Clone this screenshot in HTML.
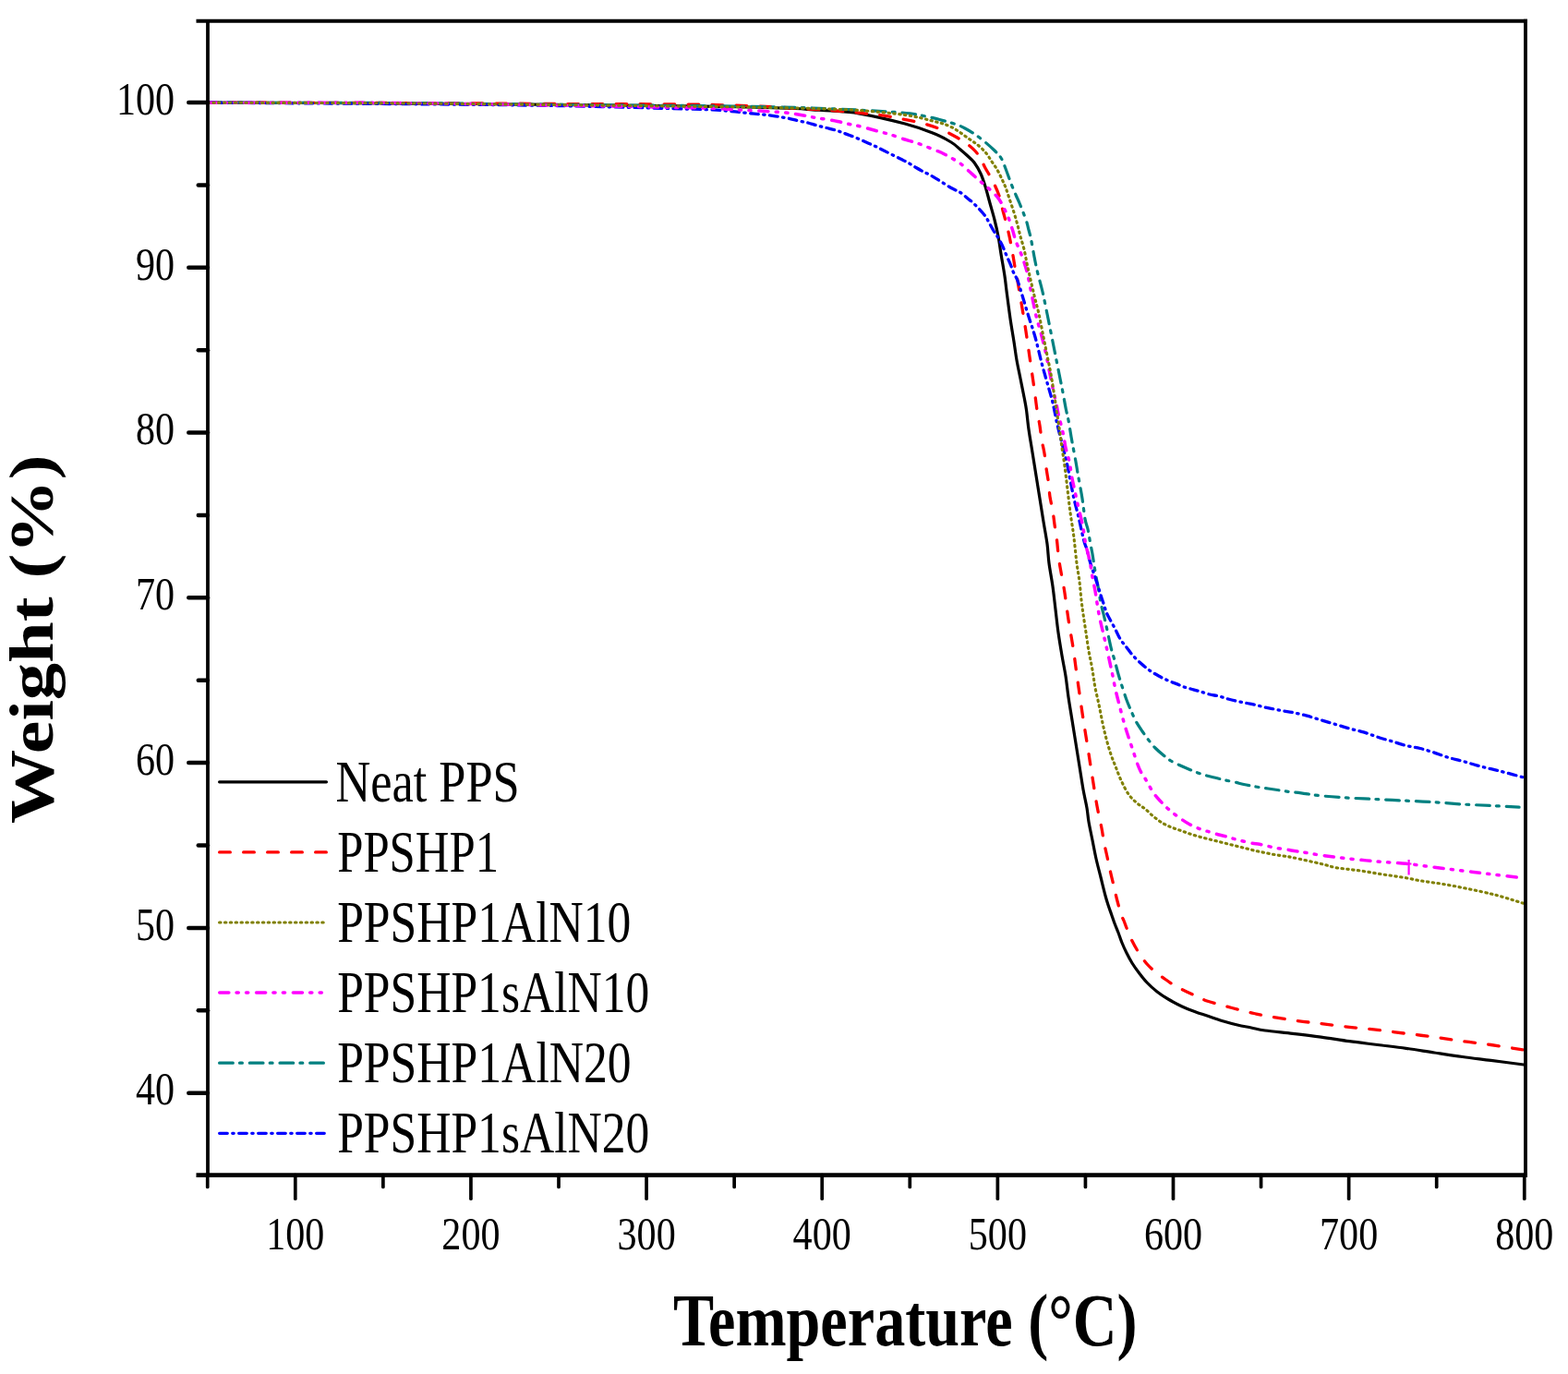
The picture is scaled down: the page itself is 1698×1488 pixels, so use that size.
<!DOCTYPE html>
<html><head><meta charset="utf-8"><title>TGA</title>
<style>html,body{margin:0;padding:0;background:#fff;} svg{display:block;}</style></head>
<body><svg width="1698" height="1488" viewBox="0 0 1698 1488">
<rect width="1698" height="1488" fill="#fff"/>
<g fill="none" stroke-linecap="round" stroke-linejoin="round">
<path d="M225,111.2C258.33,111.3 362.5,111.45 425,111.8C487.5,112.15 544.17,112.77 600,113.3C655.83,113.83 725,114.55 760,115C795,115.45 793.33,115.58 810,116C826.67,116.42 848.33,117.03 860,117.5C871.67,117.97 873.33,118.38 880,118.8C886.67,119.22 891.67,119.33 900,120C908.33,120.67 916.67,120.47 930,122.8C943.33,125.13 966.67,130.47 980,134C993.33,137.53 1001.67,140.67 1010,144C1018.33,147.33 1025,151 1030,154C1035,157 1037,159.5 1040,162C1043,164.5 1045.5,166.67 1048,169C1050.5,171.33 1052.67,172.83 1055,176C1057.33,179.17 1060,183.67 1062,188C1064,192.33 1065.33,196.67 1067,202C1068.67,207.33 1070.33,214 1072,220C1073.67,226 1075.5,232 1077,238C1078.5,244 1079.83,249.83 1081,256C1082.17,262.17 1082.83,267.83 1084,275C1085.17,282.17 1087,292.33 1088,299C1089,305.67 1089,307.33 1090,315C1091,322.67 1092.67,335.83 1094,345C1095.33,354.17 1096.83,362.5 1098,370C1099.17,377.5 1099.83,383.33 1101,390C1102.17,396.67 1103.67,403.33 1105,410C1106.33,416.67 1107.92,424.33 1109,430C1110.08,435.67 1110.67,438.17 1111.5,444C1112.33,449.83 1112.92,457.33 1114,465C1115.08,472.67 1116.67,481.67 1118,490C1119.33,498.33 1120.67,506.67 1122,515C1123.33,523.33 1124.67,531.67 1126,540C1127.33,548.33 1128.67,556.83 1130,565C1131.33,573.17 1133,581.5 1134,589C1135,596.5 1135,602.33 1136,610C1137,617.67 1138.83,626.67 1140,635C1141.17,643.33 1142,651.67 1143,660C1144,668.33 1144.83,676.67 1146,685C1147.17,693.33 1148.67,702.17 1150,710C1151.33,717.83 1152.83,724.5 1154,732C1155.17,739.5 1155.83,747 1157,755C1158.17,763 1159.67,771.67 1161,780C1162.33,788.33 1163.67,796.67 1165,805C1166.33,813.33 1167.67,821.67 1169,830C1170.33,838.33 1171.67,847.5 1173,855C1174.33,862.5 1176,869.17 1177,875C1178,880.83 1178,884.17 1179,890C1180,895.83 1181.67,903.33 1183,910C1184.33,916.67 1185.5,923.33 1187,930C1188.5,936.67 1190.33,943.33 1192,950C1193.67,956.67 1195.67,965 1197,970C1198.33,975 1198.92,976.67 1200,980C1201.08,983.33 1202.33,986.67 1203.5,990C1204.67,993.33 1205.75,996.67 1207,1000C1208.25,1003.33 1209.67,1006.5 1211,1010C1212.33,1013.5 1213.5,1017.33 1215,1021C1216.5,1024.67 1218.17,1028.33 1220,1032C1221.83,1035.67 1223.83,1039.5 1226,1043C1228.17,1046.5 1230.33,1049.5 1233,1053C1235.67,1056.5 1238.67,1060.5 1242,1064C1245.33,1067.5 1249.17,1071 1253,1074C1256.83,1077 1260.5,1079.33 1265,1082C1269.5,1084.67 1275,1087.67 1280,1090C1285,1092.33 1290,1094.17 1295,1096C1300,1097.83 1305,1099.33 1310,1101C1315,1102.67 1320,1104.5 1325,1106C1330,1107.5 1335,1108.83 1340,1110C1345,1111.17 1350,1112 1355,1113C1360,1114 1362.5,1114.95 1370,1116C1377.5,1117.05 1389.9,1118.12 1400,1119.3C1410.1,1120.48 1420.38,1121.7 1430.6,1123.1C1440.82,1124.5 1451.08,1126.3 1461.3,1127.7C1471.52,1129.1 1481.68,1130.23 1491.9,1131.5C1502.12,1132.77 1512.38,1133.88 1522.6,1135.3C1532.82,1136.72 1543,1138.47 1553.2,1140C1563.4,1141.53 1573.58,1143.1 1583.8,1144.5C1594.02,1145.9 1603.47,1146.98 1614.5,1148.4C1625.53,1149.82 1644.08,1152.23 1650,1153" stroke="#000000" stroke-width="3.2"/>
<path d="M225,111.2C258.33,111.25 362.5,111.28 425,111.5C487.5,111.72 542.5,112.17 600,112.5C657.5,112.83 723.33,112.53 770,113.5C816.67,114.47 850.5,116.55 880,118.3C909.5,120.05 931.67,122.38 947,124C962.33,125.62 963.67,126.5 972,128C980.33,129.5 989,130.92 997,133C1005,135.08 1012.83,137.5 1020,140.5C1027.17,143.5 1035.5,148.5 1040,151C1044.5,153.5 1044.33,153.42 1047,155.5C1049.67,157.58 1053.5,160.75 1056,163.5C1058.5,166.25 1060.17,168.92 1062,172C1063.83,175.08 1064.83,178 1067,182C1069.17,186 1072.5,191 1075,196C1077.5,201 1080.17,206.67 1082,212C1083.83,217.33 1084.67,222.83 1086,228C1087.33,233.17 1088.75,238 1090,243C1091.25,248 1092.42,252.83 1093.5,258C1094.58,263.17 1095.58,268.83 1096.5,274C1097.42,279.17 1098.25,284.83 1099,289C1099.75,293.17 1099.83,292.5 1101,299C1102.17,305.5 1104.33,318 1106,328C1107.67,338 1109.42,348.67 1111,359C1112.58,369.33 1114,379.67 1115.5,390C1117,400.33 1118.75,412 1120,421C1121.25,430 1122,437.33 1123,444C1124,450.67 1125.17,455.67 1126,461C1126.83,466.33 1127.17,471 1128,476C1128.83,481 1130.17,485.83 1131,491C1131.83,496.17 1132.25,501.67 1133,507C1133.75,512.33 1134.83,517.83 1135.5,523C1136.17,528.17 1136.25,533 1137,538C1137.75,543 1139.17,548 1140,553C1140.83,558 1141.25,562.67 1142,568C1142.75,573.33 1143.67,578.33 1144.5,585C1145.33,591.67 1145.67,599 1147,608C1148.33,617 1150.83,628.5 1152.5,639C1154.17,649.5 1155.42,660.67 1157,671C1158.58,681.33 1160.5,691.17 1162,701C1163.5,710.83 1164.33,718.17 1166,730C1167.67,741.83 1170,758.67 1172,772C1174,785.33 1176.17,798.33 1178,810C1179.83,821.67 1181.33,831.5 1183,842C1184.67,852.5 1186.33,863.83 1188,873C1189.67,882.17 1191.75,890.5 1193,897C1194.25,903.5 1194.5,906.83 1195.5,912C1196.5,917.17 1197.92,923 1199,928C1200.08,933 1200.83,936.83 1202,942C1203.17,947.17 1204.75,953.67 1206,959C1207.25,964.33 1208.17,968.83 1209.5,974C1210.83,979.17 1212.75,986.17 1214,990C1215.25,993.83 1216,994.5 1217,997C1218,999.5 1218.5,1001.33 1220,1005C1221.5,1008.67 1223.67,1014.33 1226,1019C1228.33,1023.67 1231.17,1028.67 1234,1033C1236.83,1037.33 1239.83,1041.5 1243,1045C1246.17,1048.5 1249.5,1051.17 1253,1054C1256.5,1056.83 1260.67,1059.67 1264,1062C1267.33,1064.33 1269.5,1066 1273,1068C1276.5,1070 1281.17,1072.17 1285,1074C1288.83,1075.83 1292.33,1077.33 1296,1079C1299.67,1080.67 1302.5,1082.42 1307,1084C1311.5,1085.58 1318.5,1087.25 1323,1088.5C1327.5,1089.75 1330.17,1090.5 1334,1091.5C1337.83,1092.5 1342,1093.5 1346,1094.5C1350,1095.5 1354,1096.58 1358,1097.5C1362,1098.42 1362.23,1098.67 1370,1100C1377.77,1101.33 1394.5,1104.08 1404.6,1105.5C1414.7,1106.92 1421.15,1107.35 1430.6,1108.5C1440.05,1109.65 1451.08,1111.25 1461.3,1112.4C1471.52,1113.55 1481.68,1114.25 1491.9,1115.4C1502.12,1116.55 1512.38,1118.02 1522.6,1119.3C1532.82,1120.58 1543,1121.7 1553.2,1123.1C1563.4,1124.5 1573.58,1126.3 1583.8,1127.7C1594.02,1129.1 1603.47,1129.95 1614.5,1131.5C1625.53,1133.05 1644.08,1136.08 1650,1137" stroke="#ff0000" stroke-width="3.3" stroke-dasharray="11.7 14.3"/>
<path d="M225,111.2C258.33,111.25 362.5,111.15 425,111.5C487.5,111.85 542.5,112.75 600,113.3C657.5,113.85 723.33,114.18 770,114.8C816.67,115.42 846.67,115.88 880,117C913.33,118.12 950,120.08 970,121.5C990,122.92 990,123.58 1000,125.5C1010,127.42 1022.5,130.75 1030,133C1037.5,135.25 1039.67,136.17 1045,139C1050.33,141.83 1056.67,146 1062,150C1067.33,154 1073.33,159.5 1077,163C1080.67,166.5 1082.17,168.17 1084,171C1085.83,173.83 1086.17,175.33 1088,180C1089.83,184.67 1093,193.83 1095,199C1097,204.17 1098.5,207.5 1100,211C1101.5,214.5 1102.17,215.5 1104,220C1105.83,224.5 1109.33,233.17 1111,238C1112.67,242.83 1113.08,245.5 1114,249C1114.92,252.5 1115.5,254.17 1116.5,259C1117.5,263.83 1119.08,273.17 1120,278C1120.92,282.83 1121.28,284.67 1122,288C1122.72,291.33 1123.13,293.33 1124.3,298C1125.47,302.67 1127.38,309 1129,316C1130.62,323 1132.33,331.83 1134,340C1135.67,348.17 1137.5,357.5 1139,365C1140.5,372.5 1141.67,378.33 1143,385C1144.33,391.67 1145.67,398.33 1147,405C1148.33,411.67 1149.78,418.67 1151,425C1152.22,431.33 1153.3,438 1154.3,443C1155.3,448 1156.05,450 1157,455C1157.95,460 1159.17,468.17 1160,473C1160.83,477.83 1161.17,479.5 1162,484C1162.83,488.5 1164.17,495.33 1165,500C1165.83,504.67 1166.33,508.17 1167,512C1167.67,515.83 1168.17,518.33 1169,523C1169.83,527.67 1171,533.5 1172,540C1173,546.5 1174,556.5 1175,562C1176,567.5 1177.08,568.83 1178,573C1178.92,577.17 1179.67,582.5 1180.5,587C1181.33,591.5 1182.25,595.67 1183,600C1183.75,604.33 1184.33,608.83 1185,613C1185.67,617.17 1186.17,620.5 1187,625C1187.83,629.5 1189.17,635.33 1190,640C1190.83,644.67 1191.17,648.83 1192,653C1192.83,657.17 1194,660.83 1195,665C1196,669.17 1197,673.5 1198,678C1199,682.5 1200,687.5 1201,692C1202,696.5 1203,701.17 1204,705C1205,708.83 1205.83,710.83 1207,715C1208.17,719.17 1209.67,725.33 1211,730C1212.33,734.67 1213.5,738.33 1215,743C1216.5,747.67 1218.33,753.5 1220,758C1221.67,762.5 1223.33,766.17 1225,770C1226.67,773.83 1228,777.33 1230,781C1232,784.67 1234.5,788.33 1237,792C1239.5,795.67 1242.67,800 1245,803C1247.33,806 1248.5,807.5 1251,810C1253.5,812.5 1257.17,815.67 1260,818C1262.83,820.33 1265.17,822.25 1268,824C1270.83,825.75 1274.17,827.17 1277,828.5C1279.83,829.83 1281.83,830.67 1285,832C1288.17,833.33 1292.67,835.25 1296,836.5C1299.33,837.75 1301.83,838.58 1305,839.5C1308.17,840.42 1311.67,841.17 1315,842C1318.33,842.83 1321.33,843.67 1325,844.5C1328.67,845.33 1333.33,846.17 1337,847C1340.67,847.83 1343.17,848.67 1347,849.5C1350.83,850.33 1356.17,851.33 1360,852C1363.83,852.67 1366.67,853 1370,853.5C1373.33,854 1375.83,854.37 1380,855C1384.17,855.63 1390.17,856.67 1395,857.3C1399.83,857.93 1403.07,858.05 1409,858.8C1414.93,859.55 1421.88,860.92 1430.6,861.8C1439.32,862.68 1451.08,863.47 1461.3,864.1C1471.52,864.73 1481.68,865.08 1491.9,865.6C1502.12,866.12 1512.38,866.68 1522.6,867.2C1532.82,867.72 1543,868.07 1553.2,868.7C1563.4,869.33 1573.58,870.37 1583.8,871C1594.02,871.63 1604.28,871.98 1614.5,872.5C1624.72,873.02 1640,873.83 1645.1,874.1" stroke="#008080" stroke-width="3.2" stroke-dasharray="14.7 7.2 2.9 7.9"/>
<path d="M225,111.2C258.33,111.42 362.5,111.95 425,112.5C487.5,113.05 544.17,113.5 600,114.5C655.83,115.5 728.33,117.5 760,118.5C791.67,119.5 781.67,119.83 790,120.5C798.33,121.17 803.33,121.83 810,122.5C816.67,123.17 822.83,123.58 830,124.5C837.17,125.42 847.17,126.92 853,128C858.83,129.08 861.33,130.17 865,131C868.67,131.83 871.67,132.17 875,133C878.33,133.83 881.67,135.08 885,136C888.33,136.92 891.67,137.67 895,138.5C898.33,139.33 902.17,140.17 905,141C907.83,141.83 909.5,142.58 912,143.5C914.5,144.42 917,145.33 920,146.5C923,147.67 926.67,149.08 930,150.5C933.33,151.92 937,153.67 940,155C943,156.33 945.33,157.25 948,158.5C950.67,159.75 953.17,161.08 956,162.5C958.83,163.92 961.83,165.42 965,167C968.17,168.58 972,170.5 975,172C978,173.5 980.17,174.42 983,176C985.83,177.58 989.17,179.83 992,181.5C994.83,183.17 997.33,184.58 1000,186C1002.67,187.42 1005,188.33 1008,190C1011,191.67 1014.33,193.75 1018,196C1021.67,198.25 1026.33,201.42 1030,203.5C1033.67,205.58 1037,206.58 1040,208.5C1043,210.42 1045.83,213.25 1048,215C1050.17,216.75 1051,217.17 1053,219C1055,220.83 1057.67,223.5 1060,226C1062.33,228.5 1065.17,231.5 1067,234C1068.83,236.5 1069.5,238.33 1071,241C1072.5,243.67 1074.5,247.5 1076,250C1077.5,252.5 1078.5,253.5 1080,256C1081.5,258.5 1083.67,262.33 1085,265C1086.33,267.67 1087,269.67 1088,272C1089,274.33 1089.92,276.5 1091,279C1092.08,281.5 1093.42,284.33 1094.5,287C1095.58,289.67 1096.25,292.17 1097.5,295C1098.75,297.83 1100.42,299.83 1102,304C1103.58,308.17 1105,313.5 1107,320C1109,326.5 1111.67,335.5 1114,343C1116.33,350.5 1118.67,356.67 1121,365C1123.33,373.33 1125.67,384.17 1128,393C1130.33,401.83 1133,410.83 1135,418C1137,425.17 1138.33,429 1140,436C1141.67,443 1143.33,452.67 1145,460C1146.67,467.33 1148.33,473.33 1150,480C1151.67,486.67 1153.5,493.33 1155,500C1156.5,506.67 1157.67,513.33 1159,520C1160.33,526.67 1161.5,533.33 1163,540C1164.5,546.67 1166.5,553.67 1168,560C1169.5,566.33 1170.92,573.33 1172,578C1173.08,582.67 1173.67,585.17 1174.5,588C1175.33,590.83 1176.08,591.83 1177,595C1177.92,598.17 1178.82,602.83 1180,607C1181.18,611.17 1182.63,615.48 1184.1,620C1185.57,624.52 1187.48,630.02 1188.8,634.1C1190.12,638.18 1190.9,641.05 1192,644.5C1193.1,647.95 1194.37,651.67 1195.4,654.8C1196.43,657.93 1197.1,660.63 1198.2,663.3C1199.3,665.97 1200.43,667.83 1202,670.8C1203.57,673.77 1205.72,677.5 1207.6,681.1C1209.48,684.7 1211.25,689.1 1213.3,692.4C1215.35,695.7 1217.72,698.07 1219.9,700.9C1222.08,703.73 1223.73,706.42 1226.4,709.4C1229.07,712.38 1232.75,715.98 1235.9,718.8C1239.05,721.62 1242.17,724.1 1245.3,726.3C1248.43,728.5 1251.57,730.27 1254.7,732C1257.83,733.73 1260.97,735.3 1264.1,736.7C1267.23,738.1 1270.37,739.15 1273.5,740.4C1276.63,741.65 1279.77,743.13 1282.9,744.2C1286.03,745.27 1289.45,746 1292.3,746.8C1295.15,747.6 1297.05,748.13 1300,749C1302.95,749.87 1306.67,751.17 1310,752C1313.33,752.83 1316.67,753.17 1320,754C1323.33,754.83 1326.67,756.08 1330,757C1333.33,757.92 1336.67,758.75 1340,759.5C1343.33,760.25 1346.67,760.83 1350,761.5C1353.33,762.17 1356.67,762.75 1360,763.5C1363.33,764.25 1366.67,765.25 1370,766C1373.33,766.75 1376.67,767.33 1380,768C1383.33,768.67 1386.67,769.4 1390,770C1393.33,770.6 1395.78,770.73 1400,771.6C1404.22,772.47 1410.2,773.83 1415.3,775.2C1420.4,776.57 1425.48,778.27 1430.6,779.8C1435.72,781.33 1440.88,782.87 1446,784.4C1451.12,785.93 1456.2,787.58 1461.3,789C1466.4,790.42 1471.5,791.37 1476.6,792.9C1481.7,794.43 1486.8,796.55 1491.9,798.2C1497,799.85 1502.08,801.27 1507.2,802.8C1512.32,804.33 1517.48,806.12 1522.6,807.4C1527.72,808.68 1532.8,809.22 1537.9,810.5C1543,811.78 1548.1,813.45 1553.2,815.1C1558.3,816.75 1563.4,818.87 1568.5,820.4C1573.6,821.93 1578.68,822.88 1583.8,824.3C1588.92,825.72 1594.08,827.5 1599.2,828.9C1604.32,830.3 1609.4,831.43 1614.5,832.7C1619.6,833.97 1623.88,834.95 1629.8,836.5C1635.72,838.05 1646.63,841.08 1650,842" stroke="#0000ff" stroke-width="3.3" stroke-dasharray="8.6 5.5 1.4 5.5"/>
<path d="M225,111.2C258.33,111.25 362.5,111.03 425,111.5C487.5,111.97 544.17,113.08 600,114C655.83,114.92 728.33,116.25 760,117C791.67,117.75 780,118 790,118.5C800,119 810,119.42 820,120C830,120.58 841.67,121.17 850,122C858.33,122.83 864.5,124.08 870,125C875.5,125.92 879.17,126.83 883,127.5C886.83,128.17 889,128.33 893,129C897,129.67 902.5,130.58 907,131.5C911.5,132.42 916.17,133.67 920,134.5C923.83,135.33 926.17,135.58 930,136.5C933.83,137.42 938.67,138.83 943,140C947.33,141.17 952.33,142.5 956,143.5C959.67,144.5 961.33,144.83 965,146C968.67,147.17 973.83,149.17 978,150.5C982.17,151.83 986.33,152.83 990,154C993.67,155.17 996.33,156.08 1000,157.5C1003.67,158.92 1008.83,161.25 1012,162.5C1015.17,163.75 1016,163.58 1019,165C1022,166.42 1026.5,169 1030,171C1033.5,173 1036.67,174.5 1040,177C1043.33,179.5 1046.67,183 1050,186C1053.33,189 1057.17,192.5 1060,195C1062.83,197.5 1064.5,198.83 1067,201C1069.5,203.17 1072.5,205.5 1075,208C1077.5,210.5 1079.83,212.83 1082,216C1084.17,219.17 1086.25,223.5 1088,227C1089.75,230.5 1091.08,233.33 1092.5,237C1093.92,240.67 1095.25,245 1096.5,249C1097.75,253 1098.58,257 1100,261C1101.42,265 1103.5,269.17 1105,273C1106.5,276.83 1107.75,280.17 1109,284C1110.25,287.83 1111.33,291.17 1112.5,296C1113.67,300.83 1114.42,305.33 1116,313C1117.58,320.67 1120.17,334.17 1122,342C1123.83,349.83 1125.33,353.67 1127,360C1128.67,366.33 1130.5,373.33 1132,380C1133.5,386.67 1134.67,393.33 1136,400C1137.33,406.67 1138.67,413.67 1140,420C1141.33,426.33 1143,433.33 1144,438C1145,442.67 1145.17,444.33 1146,448C1146.83,451.67 1148,455.83 1149,460C1150,464.17 1151.17,468.83 1152,473C1152.83,477.17 1153,480.5 1154,485C1155,489.5 1156.83,494.5 1158,500C1159.17,505.5 1160,512.67 1161,518C1162,523.33 1163,527.33 1164,532C1165,536.67 1165.67,540.17 1167,546C1168.33,551.83 1170.75,561 1172,567C1173.25,573 1173.83,578 1174.5,582C1175.17,586 1175.08,586.83 1176,591C1176.92,595.17 1178.83,601.33 1180,607C1181.17,612.67 1182,619.5 1183,625C1184,630.5 1185.17,635.33 1186,640C1186.83,644.67 1187.17,648 1188,653C1188.83,658 1189.83,664.33 1191,670C1192.17,675.67 1193.83,682 1195,687C1196.17,692 1196.83,694.83 1198,700C1199.17,705.17 1200.83,712.67 1202,718C1203.17,723.33 1204,727.17 1205,732C1206,736.83 1206.83,741.83 1208,747C1209.17,752.17 1210.5,757.17 1212,763C1213.5,768.83 1215.5,776.67 1217,782C1218.5,787.33 1219.5,790.33 1221,795C1222.5,799.67 1224.17,804.5 1226,810C1227.83,815.5 1230.33,823.5 1232,828C1233.67,832.5 1234.67,834.5 1236,837C1237.33,839.5 1238.67,840.83 1240,843C1241.33,845.17 1242.33,847.17 1244,850C1245.67,852.83 1247.83,857 1250,860C1252.17,863 1254.5,865.33 1257,868C1259.5,870.67 1262,873.33 1265,876C1268,878.67 1271.33,881.33 1275,884C1278.67,886.67 1282.83,889.67 1287,892C1291.17,894.33 1296.17,896.5 1300,898C1303.83,899.5 1306.67,900 1310,901C1313.33,902 1316.67,903.08 1320,904C1323.33,904.92 1326.67,905.58 1330,906.5C1333.33,907.42 1335.83,908.42 1340,909.5C1344.17,910.58 1350.83,912.17 1355,913C1359.17,913.83 1360.83,913.67 1365,914.5C1369.17,915.33 1375.5,917.12 1380,918C1384.5,918.88 1388.67,919.25 1392,919.8C1395.33,920.35 1397,920.82 1400,921.3C1403,921.78 1404.9,921.88 1410,922.7C1415.1,923.52 1422.05,924.98 1430.6,926.2C1439.15,927.42 1451.08,928.87 1461.3,930C1471.52,931.13 1481.68,932.12 1491.9,933C1502.12,933.88 1512.38,934.27 1522.6,935.3C1532.82,936.33 1543,937.92 1553.2,939.2C1563.4,940.48 1573.58,941.73 1583.8,943C1594.02,944.27 1603.47,945.5 1614.5,946.8C1625.53,948.1 1644.08,950.13 1650,950.8" stroke="#ff00ff" stroke-width="3.5" stroke-dasharray="10.1 8.2 2.2 8.3 2.2 8.8"/>
<path d="M225,111.2C258.33,111.3 362.5,111.42 425,111.8C487.5,112.18 542.5,112.88 600,113.5C657.5,114.12 735,115.08 770,115.5C805,115.92 795,115.75 810,116C825,116.25 848.33,116.75 860,117C871.67,117.25 868.33,117.08 880,117.5C891.67,117.92 913.33,118.33 930,119.5C946.67,120.67 966.67,122.58 980,124.5C993.33,126.42 1001.67,128.83 1010,131C1018.33,133.17 1023.33,134.2 1030,137.5C1036.67,140.8 1045,147.38 1050,150.8C1055,154.22 1057,155.47 1060,158C1063,160.53 1065.67,163.17 1068,166C1070.33,168.83 1072,172 1074,175C1076,178 1078.17,180.83 1080,184C1081.83,187.17 1083.5,190.83 1085,194C1086.5,197.17 1087.67,199.5 1089,203C1090.33,206.5 1091.5,210.5 1093,215C1094.5,219.5 1096.5,225.17 1098,230C1099.5,234.83 1100.83,239.67 1102,244C1103.17,248.33 1103.83,251.67 1105,256C1106.17,260.33 1107.83,265.17 1109,270C1110.17,274.83 1111,280.25 1112,285C1113,289.75 1113.67,292.67 1115,298.5C1116.33,304.33 1118.33,313.08 1120,320C1121.67,326.92 1123.33,332.5 1125,340C1126.67,347.5 1128.5,357.5 1130,365C1131.5,372.5 1132.67,378.33 1134,385C1135.33,391.67 1136.67,397.5 1138,405C1139.33,412.5 1141,423.58 1142,430C1143,436.42 1143,436.83 1144,443.5C1145,450.17 1147,463.08 1148,470C1149,476.92 1149.17,479.17 1150,485C1150.83,490.83 1152,497.5 1153,505C1154,512.5 1155,521.67 1156,530C1157,538.33 1158,547.5 1159,555C1160,562.5 1161.25,569.67 1162,575C1162.75,580.33 1162.83,581.17 1163.5,587C1164.17,592.83 1165.08,602.83 1166,610C1166.92,617.17 1168.17,623.33 1169,630C1169.83,636.67 1170.33,644.17 1171,650C1171.67,655.83 1172.17,659.17 1173,665C1173.83,670.83 1175,678.33 1176,685C1177,691.67 1178,699.17 1179,705C1180,710.83 1181.17,715.5 1182,720C1182.83,724.5 1183.33,727.83 1184,732C1184.67,736.17 1185,739.83 1186,745C1187,750.17 1188.67,756.67 1190,763C1191.33,769.33 1192.67,776.83 1194,783C1195.33,789.17 1196.5,794.33 1198,800C1199.5,805.67 1201.33,812 1203,817C1204.67,822 1206.17,825.33 1208,830C1209.83,834.67 1211.67,840 1214,845C1216.33,850 1219.17,855.92 1222,860C1224.83,864.08 1228,866.83 1231,869.5C1234,872.17 1236.83,873.42 1240,876C1243.17,878.58 1246.67,882.33 1250,885C1253.33,887.67 1256.67,890.08 1260,892C1263.33,893.92 1266.67,895.17 1270,896.5C1273.33,897.83 1276.67,898.83 1280,900C1283.33,901.17 1286.67,902.42 1290,903.5C1293.33,904.58 1296.67,905.58 1300,906.5C1303.33,907.42 1306.67,908.17 1310,909C1313.33,909.83 1316.67,910.67 1320,911.5C1323.33,912.33 1326.67,913.17 1330,914C1333.33,914.83 1336.67,915.67 1340,916.5C1343.33,917.33 1346.67,918.17 1350,919C1353.33,919.83 1356.67,920.75 1360,921.5C1363.33,922.25 1366.67,922.83 1370,923.5C1373.33,924.17 1376.67,924.92 1380,925.5C1383.33,926.08 1386.67,926.47 1390,927C1393.33,927.53 1393.23,927.28 1400,928.7C1406.77,930.12 1422.93,933.7 1430.6,935.5C1438.27,937.3 1440.88,938.5 1446,939.5C1451.12,940.5 1456.2,940.83 1461.3,941.5C1466.4,942.17 1471.5,942.73 1476.6,943.5C1481.7,944.27 1486.8,945.28 1491.9,946.1C1497,946.92 1502.08,947.63 1507.2,948.4C1512.32,949.17 1517.48,949.8 1522.6,950.7C1527.72,951.6 1532.8,952.92 1537.9,953.8C1543,954.68 1548.1,955.23 1553.2,956C1558.3,956.77 1563.4,957.5 1568.5,958.4C1573.6,959.3 1578.68,960.38 1583.8,961.4C1588.92,962.42 1594.08,963.4 1599.2,964.5C1604.32,965.6 1610.67,967.1 1614.5,968C1618.33,968.9 1618.37,968.82 1622.2,969.9C1626.03,970.98 1632.87,973.1 1637.5,974.5C1642.13,975.9 1647.92,977.67 1650,978.3" stroke="#808000" stroke-width="3.1" stroke-dasharray="1.5 4.35"/>
<path d="M1525.6,931 V947.6 M1520.5,935.5 H1528.5" stroke="#ff00ff" stroke-width="2.2" stroke-linecap="butt"/>
</g>
<g stroke="#000" fill="none" stroke-linecap="butt">
<path d="M225.0,22.8 V1272.7" stroke-width="3.8"/>
<path d="M1652.0,20.8 V1274.7" stroke-width="3.8"/>
<path d="M212.5,22.8 H1653.9" stroke-width="4.1"/>
<path d="M212.5,1272.7 H1653.9" stroke-width="4.8"/>
</g>
<g stroke="#000" stroke-width="4.5" stroke-linecap="round">
<path d="M204.3,1183.68 H225.0"/>
<path d="M204.3,1004.9 H225.0"/>
<path d="M204.3,826.12 H225.0"/>
<path d="M204.3,647.34 H225.0"/>
<path d="M204.3,468.56 H225.0"/>
<path d="M204.3,289.78 H225.0"/>
<path d="M204.3,111 H225.0"/>
<path d="M214.8,1094.29 H225.0"/>
<path d="M214.8,915.51 H225.0"/>
<path d="M214.8,736.73 H225.0"/>
<path d="M214.8,557.95 H225.0"/>
<path d="M214.8,379.17 H225.0"/>
<path d="M214.8,200.39 H225.0"/>
</g>
<g stroke="#000" stroke-width="3.7" stroke-linecap="round">
<path d="M319.8,1272.7 V1298.2"/>
<path d="M509.94,1272.7 V1298.2"/>
<path d="M700.08,1272.7 V1298.2"/>
<path d="M890.22,1272.7 V1298.2"/>
<path d="M1080.36,1272.7 V1298.2"/>
<path d="M1270.5,1272.7 V1298.2"/>
<path d="M1460.64,1272.7 V1298.2"/>
<path d="M1650.78,1272.7 V1298.2"/>
<path d="M224.73,1272.7 V1285.5"/>
<path d="M414.87,1272.7 V1285.5"/>
<path d="M605.01,1272.7 V1285.5"/>
<path d="M795.15,1272.7 V1285.5"/>
<path d="M985.29,1272.7 V1285.5"/>
<path d="M1175.43,1272.7 V1285.5"/>
<path d="M1365.57,1272.7 V1285.5"/>
<path d="M1555.71,1272.7 V1285.5"/>
</g>
<g font-family="Liberation Serif, Times New Roman, serif" fill="#000">
<text transform="translate(189.2,1196.48) scale(0.84,1)" font-size="50.2" text-anchor="end">40</text>
<text transform="translate(189.2,1017.7) scale(0.84,1)" font-size="50.2" text-anchor="end">50</text>
<text transform="translate(189.2,838.92) scale(0.84,1)" font-size="50.2" text-anchor="end">60</text>
<text transform="translate(189.2,660.14) scale(0.84,1)" font-size="50.2" text-anchor="end">70</text>
<text transform="translate(189.2,481.36) scale(0.84,1)" font-size="50.2" text-anchor="end">80</text>
<text transform="translate(189.2,302.58) scale(0.84,1)" font-size="50.2" text-anchor="end">90</text>
<text transform="translate(189.2,123.8) scale(0.84,1)" font-size="50.2" text-anchor="end">100</text>
<text transform="translate(319.8,1353) scale(0.84,1)" font-size="50.2" text-anchor="middle">100</text>
<text transform="translate(509.94,1353) scale(0.84,1)" font-size="50.2" text-anchor="middle">200</text>
<text transform="translate(700.08,1353) scale(0.84,1)" font-size="50.2" text-anchor="middle">300</text>
<text transform="translate(890.22,1353) scale(0.84,1)" font-size="50.2" text-anchor="middle">400</text>
<text transform="translate(1080.36,1353) scale(0.84,1)" font-size="50.2" text-anchor="middle">500</text>
<text transform="translate(1270.5,1353) scale(0.84,1)" font-size="50.2" text-anchor="middle">600</text>
<text transform="translate(1460.64,1353) scale(0.84,1)" font-size="50.2" text-anchor="middle">700</text>
<text transform="translate(1650.78,1353) scale(0.84,1)" font-size="50.2" text-anchor="middle">800</text>
<text transform="translate(363.43,867.5) scale(0.8310,1)" font-size="63.0">Neat PPS</text>
<text transform="translate(365.18,943.6) scale(0.8052,1)" font-size="63.0">PPSHP1</text>
<text transform="translate(365.15,1019.7) scale(0.8189,1)" font-size="63.0">PPSHP1AlN10</text>
<text transform="translate(365.15,1095.8) scale(0.8188,1)" font-size="63.0">PPSHP1sAlN10</text>
<text transform="translate(365.15,1171.9) scale(0.8197,1)" font-size="63.0">PPSHP1AlN20</text>
<text transform="translate(365.15,1248) scale(0.8188,1)" font-size="63.0">PPSHP1sAlN20</text>
</g>
<g fill="none" stroke-linecap="round">
<path d="M237.60,846.80 H353.50" stroke="#000000" stroke-width="3.2"/>
<path d="M237.65,922.90 H353.50" stroke="#ff0000" stroke-width="3.3" stroke-dasharray="11.7 14.3"/>
<path d="M237.55,999.00 H353.50" stroke="#808000" stroke-width="3.1" stroke-dasharray="1.5 4.35"/>
<path d="M237.75,1075.10 H353.50" stroke="#ff00ff" stroke-width="3.5" stroke-dasharray="10.1 8.2 2.2 8.3 2.2 8.8"/>
<path d="M237.60,1151.20 H353.50" stroke="#008080" stroke-width="3.2" stroke-dasharray="14.7 7.2 2.9 7.9"/>
<path d="M237.65,1227.30 H353.50" stroke="#0000ff" stroke-width="3.3" stroke-dasharray="8.6 5.5 1.4 5.5"/>
</g>
<g font-family="Liberation Serif, Times New Roman, serif" fill="#000">
<text transform="translate(728.91,1456.9) scale(0.8278,1)" font-size="80.0" font-weight="bold">Temperature (°C)</text>
<text transform="translate(57.1,892.31) rotate(-90) scale(1.1865,1)" font-size="67.8" font-weight="bold">Weight (%)</text>
</g>
</svg></body></html>
